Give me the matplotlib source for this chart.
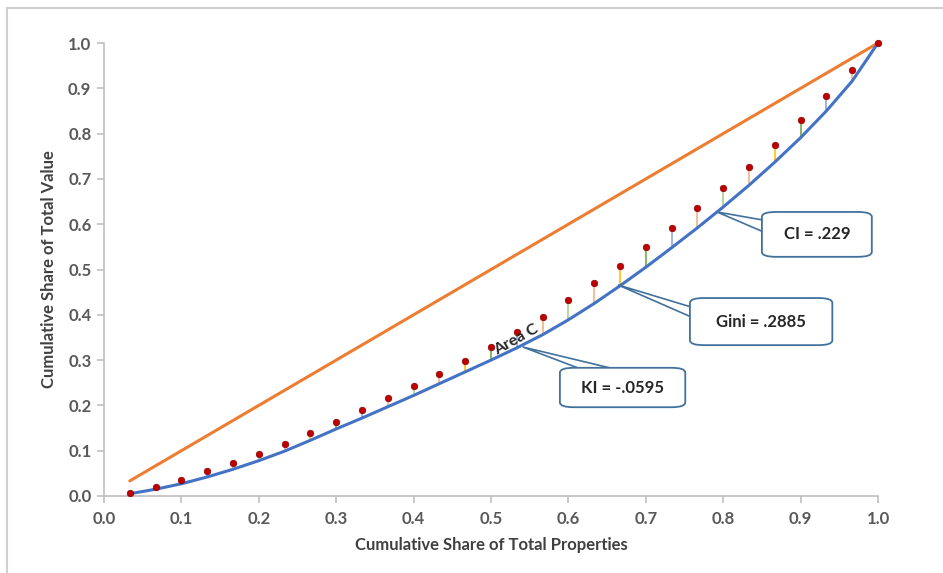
import matplotlib
matplotlib.use("Agg")
import matplotlib.pyplot as plt
from matplotlib.patches import FancyBboxPatch, Polygon
from matplotlib.lines import Line2D

# ---- data ----
x_share = [i / 30 for i in range(1, 31)]
red_points = [0.007, 0.020, 0.035, 0.055, 0.073, 0.092, 0.115, 0.139, 0.163, 0.190,
              0.216, 0.242, 0.270, 0.297, 0.329, 0.362, 0.395, 0.432, 0.470, 0.508,
              0.550, 0.592, 0.636, 0.680, 0.726, 0.775, 0.830, 0.883, 0.940, 1.000]
lorenz = [0.005, 0.015, 0.027, 0.042, 0.059, 0.078, 0.099, 0.123, 0.148, 0.172,
          0.197, 0.222, 0.248, 0.274, 0.300, 0.327, 0.356, 0.389, 0.425, 0.464,
          0.505, 0.548, 0.592, 0.638, 0.686, 0.737, 0.791, 0.850, 0.916, 1.000]
equality_x = [x_share[0], 1.0]
equality_y = [x_share[0], 1.0]
stem_colors = ['#f4b183', '#ffc000', '#70ad47', '#8faadc', '#f4b183', '#a9d18e']
ticks = [0.0, 0.1, 0.2, 0.3, 0.4, 0.5, 0.6, 0.7, 0.8, 0.9, 1.0]
tick_labels = ['0.0', '0.1', '0.2', '0.3', '0.4', '0.5', '0.6', '0.7', '0.8', '0.9', '1.0']
callout_texts = ["CI = .229", "Gini = .2885", "KI = -.0595"]
callout_tips = [(0.792, 0.627), (0.664, 0.466), (0.541, 0.329)]
callout_boxes = [(0.850, 0.528, 0.142, 0.099), (0.757, 0.333, 0.184, 0.104), (0.589, 0.196, 0.162, 0.087)]
callout_bases = [[(0.852, 0.609), (0.852, 0.583)],
                 [(0.759, 0.417), (0.759, 0.395)],
                 [(0.615, 0.281), (0.658, 0.281)]]

# ---- figure ----
W, H, DPI = 943, 573, 100
fig = plt.figure(figsize=(W / DPI, H / DPI), dpi=DPI)
fig.patch.set_facecolor('white')

# outer chart frame
fig.add_artist(Line2D([7 / W, 7 / W], [0, 1 - 8 / H], color='#d0d0d0', lw=1.5))
fig.add_artist(Line2D([7 / W, 1], [1 - 8 / H, 1 - 8 / H], color='#d0d0d0', lw=1.5))

ax = fig.add_axes([104 / W, 77 / H, 774 / W, 453 / H])
ax.set_xlim(0, 1)
ax.set_ylim(0, 1)
for s in ['top', 'right']:
    ax.spines[s].set_visible(False)
for s in ['left', 'bottom']:
    ax.spines[s].set_color('#bfbfbf')
    ax.spines[s].set_linewidth(1.2)

ax.set_xticks(ticks)
ax.set_xticklabels(tick_labels)
ax.set_yticks(ticks)
ax.set_yticklabels(tick_labels)
ax.tick_params(axis='both', colors='#bfbfbf', length=5, width=1.2, direction='out',
               labelcolor='#595959', labelsize=12)
for lab in ax.get_xticklabels() + ax.get_yticklabels():
    lab.set_fontweight('bold')
    lab.set_family('Lato')
ax.tick_params(axis='x', pad=6)
ax.tick_params(axis='y', pad=4)

# equality line
ax.plot(equality_x, equality_y, color='#ed7d31', lw=2.2, solid_capstyle='round', clip_on=False)

# stems
for i, (xv, lo, hi) in enumerate(zip(x_share, lorenz, red_points)):
    ax.plot([xv, xv], [lo, hi], color=stem_colors[i % len(stem_colors)], lw=1.2, zorder=2)

# lorenz curve
ax.plot(x_share, lorenz, color='#4472c4', lw=2.2, zorder=3, clip_on=False)

# red points
ax.scatter(x_share, red_points, s=22, color='#c00000', edgecolor='#8b0000', linewidth=0.5,
           zorder=4, clip_on=False)

# callouts
for text, tip, (bx, by, bw, bh), base in zip(callout_texts, callout_tips, callout_boxes, callout_bases):
    poly = Polygon([tip, base[0], base[1]], closed=True, facecolor='white',
                   edgecolor='#41719c', lw=1.2, zorder=5)
    ax.add_patch(poly)
    box = FancyBboxPatch((bx, by), bw, bh,
                         boxstyle='round,pad=0,rounding_size=0.018', facecolor='white',
                         edgecolor='#41719c', lw=1.3, zorder=6, mutation_aspect=453 / 774)
    ax.add_patch(box)
    ax.text(bx + bw / 2, by + bh / 2, text, ha='center', va='center', fontsize=12,
            fontweight='bold', color='#262626', family='Lato', zorder=7)

# Area C label
ax.text(0.532, 0.345, 'Area C', rotation=29, ha='center', va='center', fontsize=11.5,
        fontweight='bold', color='#262626', family='Lato', zorder=5, rotation_mode='anchor')

ax.set_xlabel('Cumulative Share of Total Properties', fontsize=12, fontweight='bold',
              color='#404040', family='Lato', labelpad=7)
ax.set_ylabel('Cumulative Share of Total Value', fontsize=12, fontweight='bold',
              color='#404040', family='Lato', labelpad=8)

fig.savefig('out.png', dpi=DPI, facecolor='white')
